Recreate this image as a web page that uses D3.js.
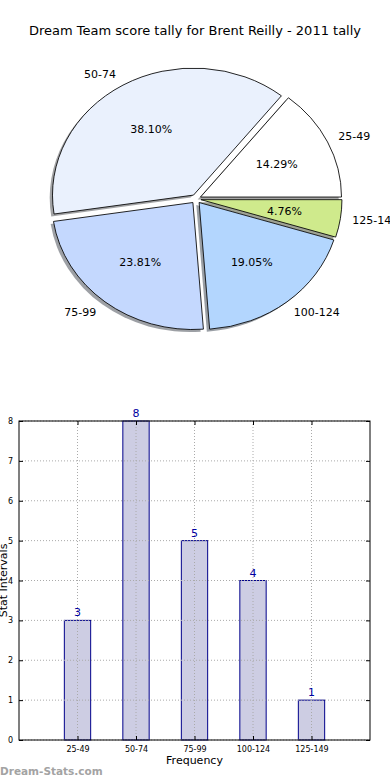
<!DOCTYPE html>
<html>
<head>
<meta charset="utf-8">
<script src="https://cdn.jsdelivr.net/npm/d3@7"></script>
<style>
  body { margin: 0; background: #fff; }
  svg { display: block; font-family: "DejaVu Sans", sans-serif; }
</style>
</head>
<body>
<svg id="chart" width="390" height="780"></svg>
<script>
const categories = ['25-49', '50-74', '75-99', '100-124', '125-149'];
const counts = [3, 8, 5, 4, 1];
const sliceColors = ['#ffffff', '#eaf1fd', '#c4d8fe', '#b3d6fe', '#cfea8c'];
const yTicks = [0, 1, 2, 3, 4, 5, 6, 7, 8];

const svg = d3.select('#chart');

svg.append('text')
  .attr('x', 195).attr('y', 35)
  .attr('text-anchor', 'middle')
  .attr('font-size', 13)
  .text('Dream Team score tally for Brent Reilly - 2011 tally');

// ---- pie (elliptical, like matplotlib without equal aspect) ----
const cx = 196, cy = 199, rx = 141, ry = 127;
const explode = 5;
const total = d3.sum(counts);

const pie = d3.pie().sort(null)
  .startAngle(Math.PI / 2)
  .endAngle(Math.PI / 2 - 2 * Math.PI);
const slices = pie(counts);
const arc = d3.arc().innerRadius(0).outerRadius(rx);

const pieG = svg.append('g')
  .attr('transform', `translate(${cx},${cy}) scale(1,${ry / rx})`);

const offset = d => {
  const a = (d.startAngle + d.endAngle) / 2;
  return [Math.sin(a) * explode, -Math.cos(a) * explode];
};

// shadows first
pieG.selectAll('path.shadow')
  .data(slices)
  .join('path')
  .attr('class', 'shadow')
  .attr('d', arc)
  .attr('fill', (d, i) => {
    const c = d3.rgb(sliceColors[i]);
    return d3.rgb(c.r * 0.3, c.g * 0.3, c.b * 0.3);
  })
  .attr('fill-opacity', 0.5)
  .attr('transform', d => {
    const [dx, dy] = offset(d);
    return `translate(${dx - 2.8},${dy + 2.8})`;
  });

pieG.selectAll('path.wedge')
  .data(slices)
  .join('path')
  .attr('class', 'wedge')
  .attr('d', arc)
  .attr('fill', (d, i) => sliceColors[i])
  .attr('stroke', '#000')
  .attr('stroke-width', 0.9)
  .attr('transform', d => {
    const [dx, dy] = offset(d);
    return `translate(${dx},${dy})`;
  });

// labels (outside at 1.1 r, percentages at 0.6 r)
slices.forEach((d, i) => {
  const a = (d.startAngle + d.endAngle) / 2;
  const [dx, dy] = offset(d);
  const ox = cx + dx, oy = cy + dy * ry / rx;
  const sx = Math.sin(a), sy = -Math.cos(a);
  svg.append('text')
    .attr('x', ox + 1.1 * rx * sx - (sx >= 0 ? 2 : 0))
    .attr('y', oy + 1.1 * ry * sy)
    .attr('dy', '0.35em')
    .attr('text-anchor', sx >= 0 ? 'start' : 'end')
    .attr('font-size', 11)
    .text(categories[i]);
  svg.append('text')
    .attr('x', ox + 0.6 * rx * sx)
    .attr('y', oy + 0.6 * ry * sy)
    .attr('dy', '0.35em')
    .attr('text-anchor', 'middle')
    .attr('font-size', 11)
    .text((counts[i] / total * 100).toFixed(2) + '%');
});

// ---- bar chart ----
const plotLeft = 19, plotRight = 370, plotTop = 421, plotBottom = 740;
const x = d3.scaleLinear().domain([-1, 5]).range([plotLeft, plotRight]);
const y = d3.scaleLinear().domain([0, 8]).range([plotBottom, plotTop]);
const barW = 0.45;

const barG = svg.append('g');

barG.selectAll('rect')
  .data(counts)
  .join('rect')
  .attr('x', (d, i) => x(i - barW / 2))
  .attr('y', d => y(d))
  .attr('width', x(barW) - x(0))
  .attr('height', d => y(0) - y(d))
  .attr('fill', '#cdcde3')
  .attr('stroke', '#00008b')
  .attr('stroke-width', 1);

// grid
barG.selectAll('line.hgrid')
  .data(yTicks)
  .join('line')
  .attr('class', 'hgrid')
  .attr('x1', plotLeft).attr('x2', plotRight)
  .attr('y1', d => y(d)).attr('y2', d => y(d))
  .attr('stroke', '#aaa').attr('stroke-width', 1)
  .attr('stroke-dasharray', '1,2');
barG.selectAll('line.vgrid')
  .data(categories)
  .join('line')
  .attr('class', 'vgrid')
  .attr('x1', (d, i) => x(i)).attr('x2', (d, i) => x(i))
  .attr('y1', plotTop).attr('y2', plotBottom)
  .attr('stroke', '#aaa').attr('stroke-width', 1)
  .attr('stroke-dasharray', '1,2');

// axes (ticks inside, on all sides)
const idx = d3.range(categories.length);
const styleText = g => g.selectAll('text')
  .attr('font-size', 8)
  .attr('font-family', '"DejaVu Sans", sans-serif')
  .attr('fill', '#000');

barG.append('g')
  .attr('transform', `translate(0,${plotBottom})`)
  .call(d3.axisBottom(x).tickValues(idx).tickFormat(i => categories[i]).tickSizeInner(-4).tickSizeOuter(0).tickPadding(6))
  .call(g => g.select('.domain').remove())
  .call(styleText);
barG.append('g')
  .attr('transform', `translate(0,${plotTop})`)
  .call(d3.axisTop(x).tickValues(idx).tickFormat('').tickSizeInner(-4).tickSizeOuter(0))
  .call(g => g.select('.domain').remove());
barG.append('g')
  .attr('transform', `translate(${plotLeft},0)`)
  .call(d3.axisLeft(y).tickValues(yTicks).tickFormat(d3.format('d')).tickSizeInner(-4).tickSizeOuter(0).tickPadding(6))
  .call(g => g.select('.domain').remove())
  .call(styleText);
barG.append('g')
  .attr('transform', `translate(${plotRight},0)`)
  .call(d3.axisRight(y).tickValues(yTicks).tickFormat('').tickSizeInner(-4).tickSizeOuter(0))
  .call(g => g.select('.domain').remove());

barG.append('rect')
  .attr('x', plotLeft).attr('y', plotTop)
  .attr('width', plotRight - plotLeft).attr('height', plotBottom - plotTop)
  .attr('fill', 'none').attr('stroke', '#000').attr('stroke-width', 1);

// value labels
barG.selectAll('text.val')
  .data(counts)
  .join('text')
  .attr('class', 'val')
  .attr('x', (d, i) => x(i))
  .attr('y', d => y(d) - 4)
  .attr('text-anchor', 'middle')
  .attr('font-size', 11)
  .attr('fill', '#0000a0')
  .text(d => d);

svg.append('text')
  .attr('x', x(2)).attr('y', 764)
  .attr('text-anchor', 'middle')
  .attr('font-size', 11)
  .text('Frequency');

svg.append('text')
  .attr('transform', `translate(7,${(plotTop + plotBottom) / 2}) rotate(-90)`)
  .attr('text-anchor', 'middle')
  .attr('font-size', 11)
  .text('Stat Intervals');

svg.append('text')
  .attr('x', 0).attr('y', 775)
  .attr('font-size', 10.5)
  .attr('font-weight', 'bold')
  .attr('fill', '#a3a3a3')
  .text('Dream-Stats.com');
</script>
</body>
</html>
